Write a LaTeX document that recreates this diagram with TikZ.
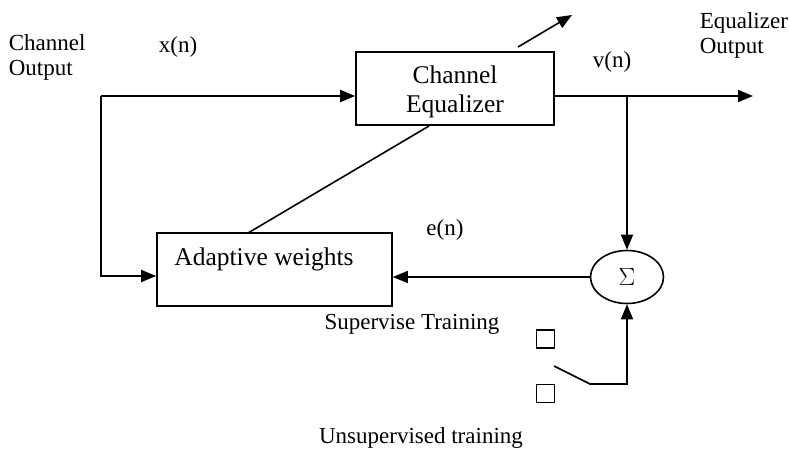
\documentclass[tikz,border=0pt]{standalone}
\usepackage{fontspec}
\setmainfont{Liberation Serif}
\usetikzlibrary{arrows.meta,shapes.geometric,calc}
\begin{document}
\begin{tikzpicture}[x=1pt,y=-1pt,
  line width=1.6pt,
  conn/.style={-{Triangle[length=15pt,width=12pt]}},
  block/.style={draw,rectangle,inner sep=0pt},
  lbl/.style={inner sep=0pt,font=\fontsize{23}{25}\selectfont,align=left},
  btxt/.style={inner sep=0pt,font=\fontsize{25.5}{29}\selectfont,align=center},
  sw/.style={draw,rectangle,line width=1.3pt,minimum size=18pt,inner sep=0pt}]
  \useasboundingbox (0,0) rectangle (789,449);

  % blocks
  \node[block,minimum width=198pt,minimum height=73pt] (eq) at (455,88.5) {};
  \node[btxt] (eqtxt) at (455,92) {Channel\\Equalizer};
  \node[block,minimum width=235pt,minimum height=73pt] (aw) at (274.5,269.5) {};
  \node[btxt] (awtxt) at (264,259) {Adaptive weights};
  \node[draw,ellipse,minimum width=73pt,minimum height=53pt,inner sep=0pt,
        font=\fontsize{25}{27}\selectfont] (sum) at (627,277) {$\Sigma$};

  % switch contacts
  \node[sw] (s1) at (545.5,339) {};
  \node[sw] (s2) at (545.5,393.5) {};

  % labels
  \node[lbl,anchor=west] (chout) at (8,57) {Channel\\Output};
  \node[lbl] (xn) at (178,47) {x(n)};
  \node[lbl] (vn) at (612,62) {v(n)};
  \node[lbl,anchor=west] (eqout) at (699,35) {Equalizer\\Output};
  \node[lbl] (en) at (445,230) {e(n)};
  \node[lbl] (sup) at (412,324) {Supervise Training};
  \node[lbl] (unsup) at (421,438) {Unsupervised training};

  % points on the signal paths
  \coordinate (in) at (101,96);
  \coordinate (tap) at (627,96);
  \coordinate (out) at (753,96);
  \coordinate (adj0) at (518,47);
  \coordinate (adj1) at (572,15);
  \coordinate (awtop) at (248,233);
  \coordinate (eqbot) at (429,126);
  \coordinate (swa) at (554,366);
  \coordinate (swb) at (590,384);
  \coordinate (swc) at (627,384);

  % connectors
  \draw[conn] (in) -- (in -| eq.west);
  \draw[conn] (in) |- (aw.west |- 0,276);
  \draw[conn] (eq.east |- tap) -- (out);
  \draw[conn] (tap) -- (sum.north);
  \draw[conn] (sum.west) -- (sum.west -| aw.east);
  \draw (awtop) -- (eqbot);
  \draw[conn] (adj0) -- (adj1);
  \draw[conn] (swa) -- (swb) -- (swc) -- (sum.south);
\end{tikzpicture}
\end{document}
